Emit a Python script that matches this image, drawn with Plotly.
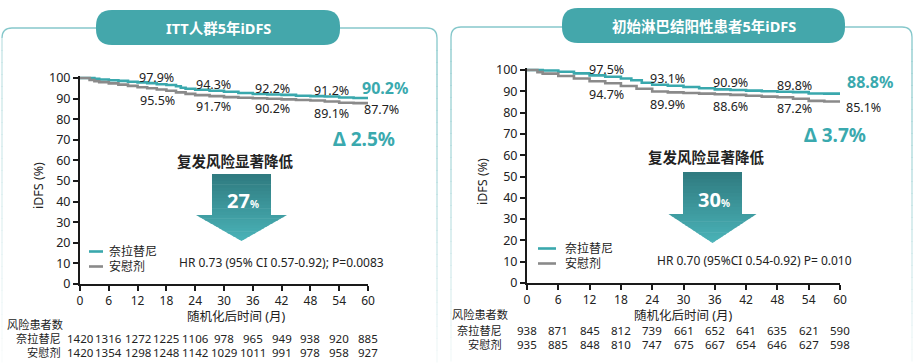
import plotly.graph_objects as go

# ---------------- data ----------------
tick_months = [0, 6, 12, 18, 24, 30, 36, 42, 48, 54, 60]
y_ticks = [0, 10, 20, 30, 40, 50, 60, 70, 80, 90, 100]

# ITT population curves (month, iDFS %)
itt_nera_m = [0, 2, 3, 4, 6, 8, 10, 12, 14, 16, 18, 20, 21, 22, 24, 27, 30, 33, 36, 39, 42, 45, 48, 51, 54, 57, 60]
itt_nera_v = [100, 100, 99.6, 99.3, 98.9, 98.6, 98.2, 97.9, 97.5, 97.0, 96.6, 96.0, 95.3, 94.8, 94.3, 93.8, 93.3, 92.7, 92.2, 92.0, 91.8, 91.4, 91.2, 91.0, 90.5, 90.3, 90.2]
itt_plac_m = [0, 1, 2, 3, 4, 6, 8, 10, 12, 14, 16, 18, 20, 22, 24, 27, 30, 33, 36, 39, 42, 45, 48, 51, 54, 57, 60]
itt_plac_v = [100, 100, 99.0, 98.4, 98.0, 97.4, 96.8, 96.2, 95.5, 95.0, 94.4, 93.8, 93.0, 92.3, 91.7, 91.2, 90.7, 90.4, 90.2, 89.9, 89.6, 89.3, 89.1, 88.6, 88.0, 87.8, 87.7]

# node-positive population curves
np_nera_m = [0, 3, 6, 9, 12, 15, 18, 20, 22, 24, 27, 30, 33, 36, 39, 42, 45, 48, 51, 54, 57, 60]
np_nera_v = [100, 99.8, 99.2, 98.4, 97.5, 96.8, 96.0, 95.2, 94.0, 93.1, 92.6, 92.0, 91.4, 90.9, 90.6, 90.3, 90.0, 89.8, 89.6, 89.0, 88.9, 88.8]
np_plac_m = [0, 2, 3, 6, 9, 12, 15, 18, 21, 24, 27, 30, 33, 36, 39, 42, 45, 48, 51, 54, 57, 60]
np_plac_v = [100, 99.0, 98.3, 97.2, 96.0, 94.7, 93.8, 92.5, 91.2, 89.9, 89.5, 89.2, 88.9, 88.6, 88.3, 87.9, 87.5, 87.2, 86.5, 85.5, 85.2, 85.1]

# landmark labels
itt_nera_lab = ["97.9%", "94.3%", "92.2%", "91.2%"]
itt_plac_lab = ["95.5%", "91.7%", "90.2%", "89.1%"]
itt_final = ["90.2%", "87.7%"]
np_nera_lab = ["97.5%", "93.1%", "90.9%", "89.8%"]
np_plac_lab = ["94.7%", "89.9%", "88.6%", "87.2%"]
np_final = ["88.8%", "85.1%"]

itt_risk_nera = [1420, 1316, 1272, 1225, 1106, 978, 965, 949, 938, 920, 885]
itt_risk_plac = [1420, 1354, 1298, 1248, 1142, 1029, 1011, 991, 978, 958, 927]
np_risk_nera = [938, 871, 845, 812, 739, 661, 652, 641, 635, 621, 590]
np_risk_plac = [935, 885, 848, 810, 747, 675, 667, 654, 646, 627, 598]

titles = ["ITT人群5年iDFS", "初始淋巴结阳性患者5年iDFS"]
deltas = ["Δ 2.5%", "Δ 3.7%"]
reductions = ["27", "30"]
hr_texts = ["HR 0.73 (95% CI 0.57-0.92); P=0.0083", "HR 0.70 (95%CI 0.54-0.92) P= 0.010"]
series_names = ["奈拉替尼", "安慰剂"]

# ---------------- geometry ----------------
FW, FH = 929, 380   # figure slightly larger than the window; visible area is 919x363

TEAL = "#3aa8ad"
TEAL_TXT = "#3aa9ae"
GRAY = "#8a8a8a"
TXT = "#222222"
BORDER = "#86c8cb"
PILL = "#44a7ab"
FONT = "Noto Sans, Noto Sans CJK SC, sans-serif"


def X(p):
    return p / FW


def Y(p):
    return 1 - p / FH


def poly(pts):
    return "M" + " L".join(f"{X(x):.5f},{Y(y):.5f}" for x, y in pts) + " Z"


def rrect(x0, y0, x1, y1, r):
    return (f"M{X(x0 + r)},{Y(y0)} L{X(x1 - r)},{Y(y0)} Q{X(x1)},{Y(y0)} {X(x1)},{Y(y0 + r)} "
            f"L{X(x1)},{Y(y1 - r)} Q{X(x1)},{Y(y1)} {X(x1 - r)},{Y(y1)} L{X(x0 + r)},{Y(y1)} "
            f"Q{X(x0)},{Y(y1)} {X(x0)},{Y(y1 - r)} L{X(x0)},{Y(y0 + r)} Q{X(x0)},{Y(y0)} {X(x0 + r)},{Y(y0)} Z")


def mix(c0, c1, t):
    a = [int(c0[i:i + 2], 16) for i in (1, 3, 5)]
    b = [int(c1[i:i + 2], 16) for i in (1, 3, 5)]
    return "rgb(" + ",".join(str(round(a[k] + (b[k] - a[k]) * t)) for k in range(3)) + ")"


shapes = []
annotations = []


def panel_border(x0, x1, top, r=10, fade_left=1.0):
    shapes.append(dict(type="path", xref="paper", yref="paper",
                       path=f"M{X(x0)},{Y(top + r)} Q{X(x0)},{Y(top)} {X(x0 + r)},{Y(top)} L{X(x1 - r)},{Y(top)} "
                            f"Q{X(x1)},{Y(top)} {X(x1)},{Y(top + r)}",
                       line=dict(color=BORDER, width=1.3), fillcolor="rgba(0,0,0,0)"))
    ys = list(range(top + r, 364, 12))
    for i in range(len(ys) - 1):
        t = i / (len(ys) - 1)
        op = max(0.08, 1 - t * 0.95)
        for xx, f in ((x0, fade_left), (x1, 1.0)):
            shapes.append(dict(type="line", xref="paper", yref="paper",
                               x0=X(xx), x1=X(xx), y0=Y(ys[i]), y1=Y(ys[i + 1] + 0.5),
                               line=dict(color=BORDER, width=1.3), opacity=op * f))


def pill(x0, x1, y0, y1, text, r=16):
    shapes.append(dict(type="path", xref="paper", yref="paper", path=rrect(x0, y0, x1, y1, r),
                       fillcolor=PILL, line=dict(width=0)))
    annotations.append(dict(xref="paper", yref="paper", x=X((x0 + x1) / 2), y=Y((y0 + y1) / 2),
                            text=f"<b>{text}</b>", showarrow=False, xanchor="center", yanchor="middle",
                            font=dict(size=14.5, color="white", family=FONT)))


def arrow(cx, sw, hw, top, hy, tip, label, c0="#2f7a7f", c1="#4ab3b8"):
    total = tip - top
    n1, n2 = 12, 16
    for i in range(n1):
        ya = top + (hy - top) * i / n1
        yb = top + (hy - top) * (i + 1) / n1
        col = mix(c0, c1, ((ya + yb) / 2 - top) / total)
        shapes.append(dict(type="path", xref="paper", yref="paper",
                           path=poly([(cx - sw, ya), (cx + sw, ya), (cx + sw, yb + 0.6), (cx - sw, yb + 0.6)]),
                           fillcolor=col, line=dict(width=0)))
    for i in range(n2):
        ya = hy + (tip - hy) * i / n2
        yb = hy + (tip - hy) * (i + 1) / n2
        yb2 = min(tip, yb + 0.6)
        wa = hw * (tip - ya) / (tip - hy)
        wb = hw * (tip - yb2) / (tip - hy)
        col = mix(c0, c1, ((ya + yb) / 2 - top) / total)
        shapes.append(dict(type="path", xref="paper", yref="paper",
                           path=poly([(cx - wa, ya), (cx + wa, ya), (cx + wb, yb2), (cx - wb, yb2)]),
                           fillcolor=col, line=dict(width=0)))
    annotations.append(dict(xref="paper", yref="paper", x=X(cx + 1), y=Y((top + hy) / 2 + 6),
                            text=f"<b>{label}</b><span style='font-size:10px'><b>%</b></span>",
                            showarrow=False, xanchor="center", yanchor="middle",
                            font=dict(size=20, color="white", family=FONT)))


def txt(x, y, text, size=12.5, color=TXT, xanchor="center", bold=False, xref="paper", yref="paper", angle=0):
    if bold:
        text = f"<b>{text}</b>"
    annotations.append(dict(xref=xref, yref=yref, x=x, y=y, text=text, showarrow=False,
                            xanchor=xanchor, yanchor="middle", textangle=angle,
                            font=dict(size=size, color=color, family=FONT)))


# ---------------- panels ----------------
panel_border(2, 437, 28, fade_left=0.5)
panel_border(451, 912, 27)
pill(96, 340, 10, 45, titles[0])
pill(562, 845, 8, 43, titles[1])

arrow(241.5, 29.5, 45.5, 174, 215, 241, reductions[0])
arrow(712.5, 29.5, 44, 172, 214, 243, reductions[1])

fig = go.Figure()

panels = [
    dict(xa="x", ya="y", xd=(80, 368), y0px=284, y100px=78,
         curves=[(itt_nera_m, itt_nera_v, TEAL), (itt_plac_m, itt_plac_v, GRAY)],
         up_lab=itt_nera_lab, lo_lab=itt_plac_lab, final=itt_final,
         up_pos=[(16.0, 100.1), (27.9, 96.6), (40.2, 95.0), (52.3, 93.8)],
         lo_pos=[(16.1, 89.3), (27.9, 86.1), (40.2, 85.3), (52.3, 82.9)],
         fin_px=[(385, 88), (381, 109)],
         delta=(364, 139), reduce_txt=(235, 161), hr=(177, 262),
         leg=(89, 103, 107, 251.5, 266.5), ytitle=(38, 186), xtitle=(236, 316),
         risk_head=(5, 324), risk_lab_x=63, risk_rows=(338.5, 352.5),
         risk=(itt_risk_nera, itt_risk_plac)),
    dict(xa="x2", ya="y2", xd=(527, 840), y0px=283, y100px=70,
         curves=[(np_nera_m, np_nera_v, TEAL), (np_plac_m, np_plac_v, GRAY)],
         up_lab=np_nera_lab, lo_lab=np_plac_lab, final=np_final,
         up_pos=[(15.3, 100.3), (27.0, 95.8), (39.1, 94.0), (51.2, 92.9)],
         lo_pos=[(15.2, 88.6), (27.0, 84.0), (39.1, 83.1), (51.2, 82.0)],
         fin_px=[(870, 82), (863, 107)],
         delta=(835, 135), reduce_txt=(706, 157), hr=(655, 260),
         leg=(538, 556, 563, 248.5, 263.5), ytitle=(483, 182), xtitle=(683, 315),
         risk_head=(450, 314), risk_lab_x=504, risk_rows=(330, 344),
         risk=(np_risk_nera, np_risk_plac)),
]

layout_axes = {}
for k, p in enumerate(panels):
    xa, ya = p["xa"], p["ya"]
    for (m, v, c) in p["curves"]:
        fig.add_trace(go.Scatter(x=m, y=v, mode="lines", line=dict(color=c, width=2.6, shape="hv"),
                                 xaxis=xa, yaxis=ya, showlegend=False, hoverinfo="skip"))
    ppu = (p["y0px"] - p["y100px"]) / 100.0
    top_px = p["y0px"] - 101 * ppu
    xname = "xaxis" if xa == "x" else "xaxis2"
    yname = "yaxis" if ya == "y" else "yaxis2"
    axis_common = dict(showline=True, linewidth=2, linecolor="#1a1a1a", ticks="outside",
                       ticklen=5, tickwidth=1.5, tickcolor="#1a1a1a", showgrid=False, zeroline=False,
                       automargin=False, fixedrange=True)
    layout_axes[xname] = dict(domain=[X(p["xd"][0]), X(p["xd"][1])], range=[0, 60],
                              tickvals=tick_months, anchor=ya,
                              tickfont=dict(size=12, color=TXT, family=FONT), **axis_common)
    layout_axes[yname] = dict(domain=[Y(p["y0px"]), Y(top_px)], range=[0, 101],
                              tickvals=y_ticks, anchor=xa,
                              tickfont=dict(size=12.5, color=TXT, family=FONT), **axis_common)

    xr, yr = xa, ya
    for lab, (mx, vy) in zip(p["up_lab"], p["up_pos"]):
        txt(mx, vy, lab, xref=xr, yref=yr)
    for lab, (mx, vy) in zip(p["lo_lab"], p["lo_pos"]):
        txt(mx, vy, lab, xref=xr, yref=yr)
    (fx0, fy0), (fx1, fy1) = p["fin_px"]
    txt(X(fx0), Y(fy0), p["final"][0], size=16, color=TEAL_TXT, bold=True)
    txt(X(fx1), Y(fy1), p["final"][1])

    txt(X(p["delta"][0]), Y(p["delta"][1]), deltas[k], size=19, color=TEAL_TXT, bold=True)
    txt(X(p["reduce_txt"][0]), Y(p["reduce_txt"][1]), "复发风险显著降低", size=14.5, bold=True)
    txt(X(p["hr"][0]), Y(p["hr"][1]), hr_texts[k], size=12, xanchor="left")

    lx0, lx1, ltx, ly1, ly2 = p["leg"]
    for (ly, c, name) in ((ly1, TEAL, series_names[0]), (ly2, GRAY, series_names[1])):
        shapes.append(dict(type="line", xref="paper", yref="paper", x0=X(lx0), x1=X(lx1),
                           y0=Y(ly), y1=Y(ly), line=dict(color=c, width=2.6)))
        txt(X(ltx), Y(ly), name, size=12, xanchor="left")

    txt(X(p["ytitle"][0]), Y(p["ytitle"][1]), "iDFS (%)", size=12.5, angle=-90)
    txt(X(p["xtitle"][0]), Y(p["xtitle"][1]), "随机化后时间 (月)", size=12.5)

    txt(X(p["risk_head"][0]), Y(p["risk_head"][1]), "风险患者数", size=11.2, xanchor="left")
    for row_y, name, vals in zip(p["risk_rows"], series_names, p["risk"]):
        txt(X(p["risk_lab_x"]), Y(row_y), name, size=11.2, xanchor="right")
        for m, v in zip(tick_months, vals):
            txt(m, Y(row_y), str(v), size=11.5, xref=xr, yref="paper")

fig.update_layout(width=FW, height=FH, margin=dict(l=0, r=0, t=0, b=0),
                  paper_bgcolor="white", plot_bgcolor="rgba(0,0,0,0)",
                  font=dict(family=FONT, color=TXT), shapes=shapes, annotations=annotations,
                  showlegend=False, **layout_axes)

fig.write_html("out.html", config={"displayModeBar": False},
               post_script="document.documentElement.style.margin='0';document.body.style.margin='0';"
                           "document.body.style.overflow='hidden';")
